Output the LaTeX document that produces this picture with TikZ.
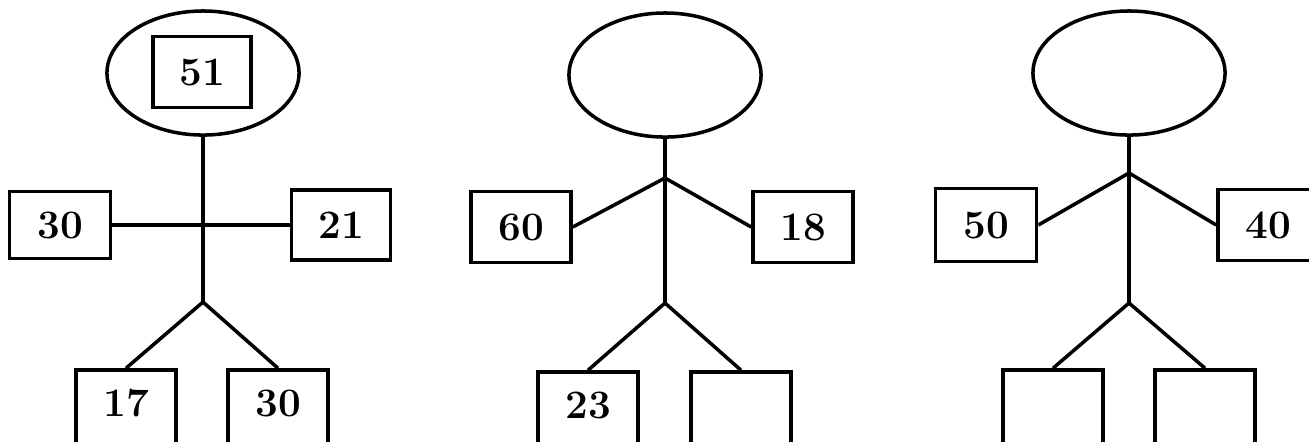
\documentclass[tikz,border=0pt]{standalone}
\usetikzlibrary{shapes.geometric}
\begin{document}
\begin{tikzpicture}[x=0.01cm, y=-0.01cm, line width=1pt,
  every node/.style={font=\fontsize{11.5}{14}\selectfont\bfseries, align=center},
  box/.style={draw, line width=1pt, minimum width=1cm, minimum height=0.7cm, inner sep=0pt},
  low/.style={box, minimum height=0.84cm, text depth=0.18cm},
  head/.style={draw, ellipse, line width=1pt, minimum width=1.92cm, minimum height=1.24cm, inner sep=0pt}]
\useasboundingbox (0,0) rectangle (1309,441);
\clip (0,0) rectangle (1309,441);

% first figure
\node[head] (h1) at (203,73) {};
\node[box, minimum height=0.71cm, minimum width=0.98cm] (n1) at (202,72) {51};
\coordinate (p1) at (203,302);
\node[box, minimum width=1.01cm, minimum height=0.67cm] (l1) at (60,225) {30};
\node[box, minimum width=0.99cm] (r1) at (341,225) {21};
\node[low] (f1) at (126,412) {17};
\node[low] (g1) at (278,412) {30};
\draw (h1.south) -- (p1);
\draw (l1.east) -- (r1.west);
\draw (p1) -- (f1.north);
\draw (p1) -- (g1.north);

% second figure
\node[head] (h2) at (665,75) {};
\coordinate (j2) at (665,178);
\coordinate (p2) at (665,303);
\node[box, minimum height=0.71cm] (l2) at (521,227) {60};
\node[box, minimum height=0.71cm] (r2) at (803,227) {18};
\node[low] (f2) at (588,414) {23};
\node[low] (g2) at (741,414) {};
\draw (h2.south) -- (p2);
\draw (j2) -- (l2.east);
\draw (j2) -- (r2.west);
\draw (p2) -- (f2.north);
\draw (p2) -- (g2.north);

% third figure
\node[head] (h3) at (1129,73) {};
\coordinate (j3) at (1129,173);
\coordinate (p3) at (1129,303);
\node[box, minimum width=1.01cm, minimum height=0.73cm] (l3) at (986,225) {50};
\node[box, minimum height=0.71cm] (r3) at (1268,225) {40};
\node[low] (f3) at (1053,412) {};
\node[low] (g3) at (1205,412) {};
\draw (h3.south) -- (p3);
\draw (j3) -- (l3.east);
\draw (j3) -- (r3.west);
\draw (p3) -- (f3.north);
\draw (p3) -- (g3.north);
\end{tikzpicture}
\end{document}
